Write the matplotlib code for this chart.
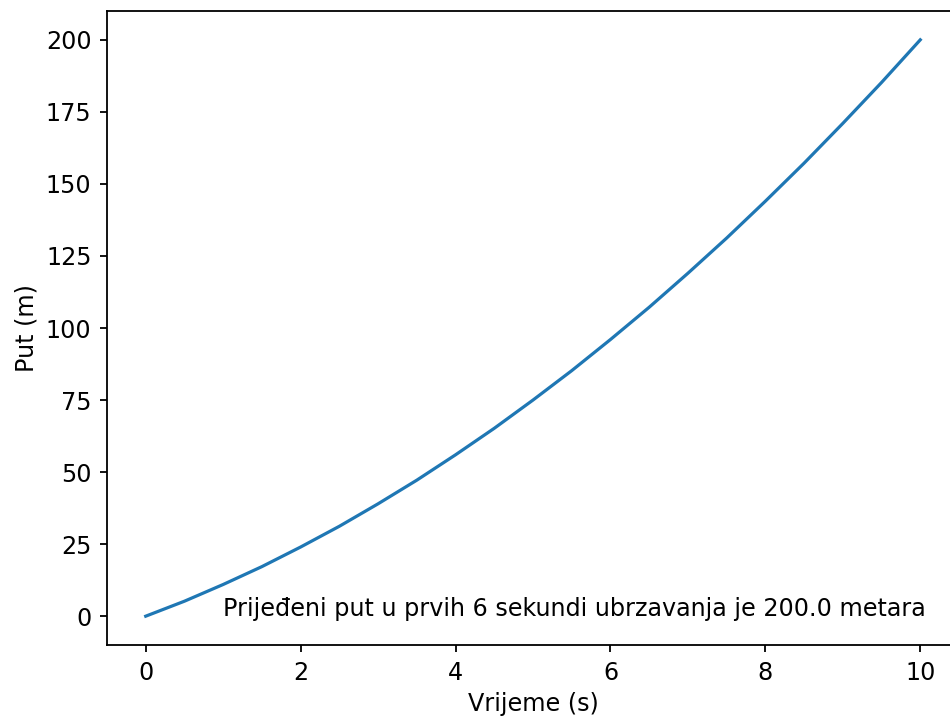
import matplotlib
matplotlib.use("Agg")
from matplotlib import pyplot as plt

# values, every half second
time_s = [0.0, 0.5, 1.0, 1.5, 2.0, 2.5, 3.0, 3.5, 4.0, 4.5, 5.0,
          5.5, 6.0, 6.5, 7.0, 7.5, 8.0, 8.5, 9.0, 9.5, 10.0]
distance_m = [0.0, 5.2, 11.0, 17.2, 24.0, 31.2, 39.0, 47.2, 56.0, 65.2, 75.0,
              85.2, 96.0, 107.2, 119.0, 131.2, 144.0, 157.2, 171.0, 185.2, 200.0]

note_text = "Prijeđeni put u prvih 6 sekundi ubrzavanja je 200.0 metara"
note_x = 1.0
note_y = 0.0

fs = 17.2
plt.rcParams['font.size'] = fs
plt.rcParams['axes.linewidth'] = 1.3
plt.rcParams['xtick.major.width'] = 1.3
plt.rcParams['ytick.major.width'] = 1.3
plt.rcParams['xtick.major.size'] = 5.2
plt.rcParams['ytick.major.size'] = 5.2
plt.rcParams['xtick.major.pad'] = 6.0
plt.rcParams['ytick.major.pad'] = 6.0
plt.rcParams['axes.labelpad'] = 5.0

fig = plt.figure(figsize=(9.5, 7.2), dpi=100)
# the source picture is cropped on the right, so the axes run past the edge
ax = fig.add_axes([107 / 950, 75 / 720, 852 / 950, 634 / 720])
ax.plot(time_s, distance_m, color='#1f77b4', linewidth=2.3)
ax.text(note_x, note_y, note_text, fontsize=fs)
ax.set_xlabel('Vrijeme (s)')
ax.set_ylabel('Put (m)')
ax.set_xticks([0, 2, 4, 6, 8, 10])
ax.set_yticks([0, 25, 50, 75, 100, 125, 150, 175, 200])

plt.savefig('out.png', dpi=100)
